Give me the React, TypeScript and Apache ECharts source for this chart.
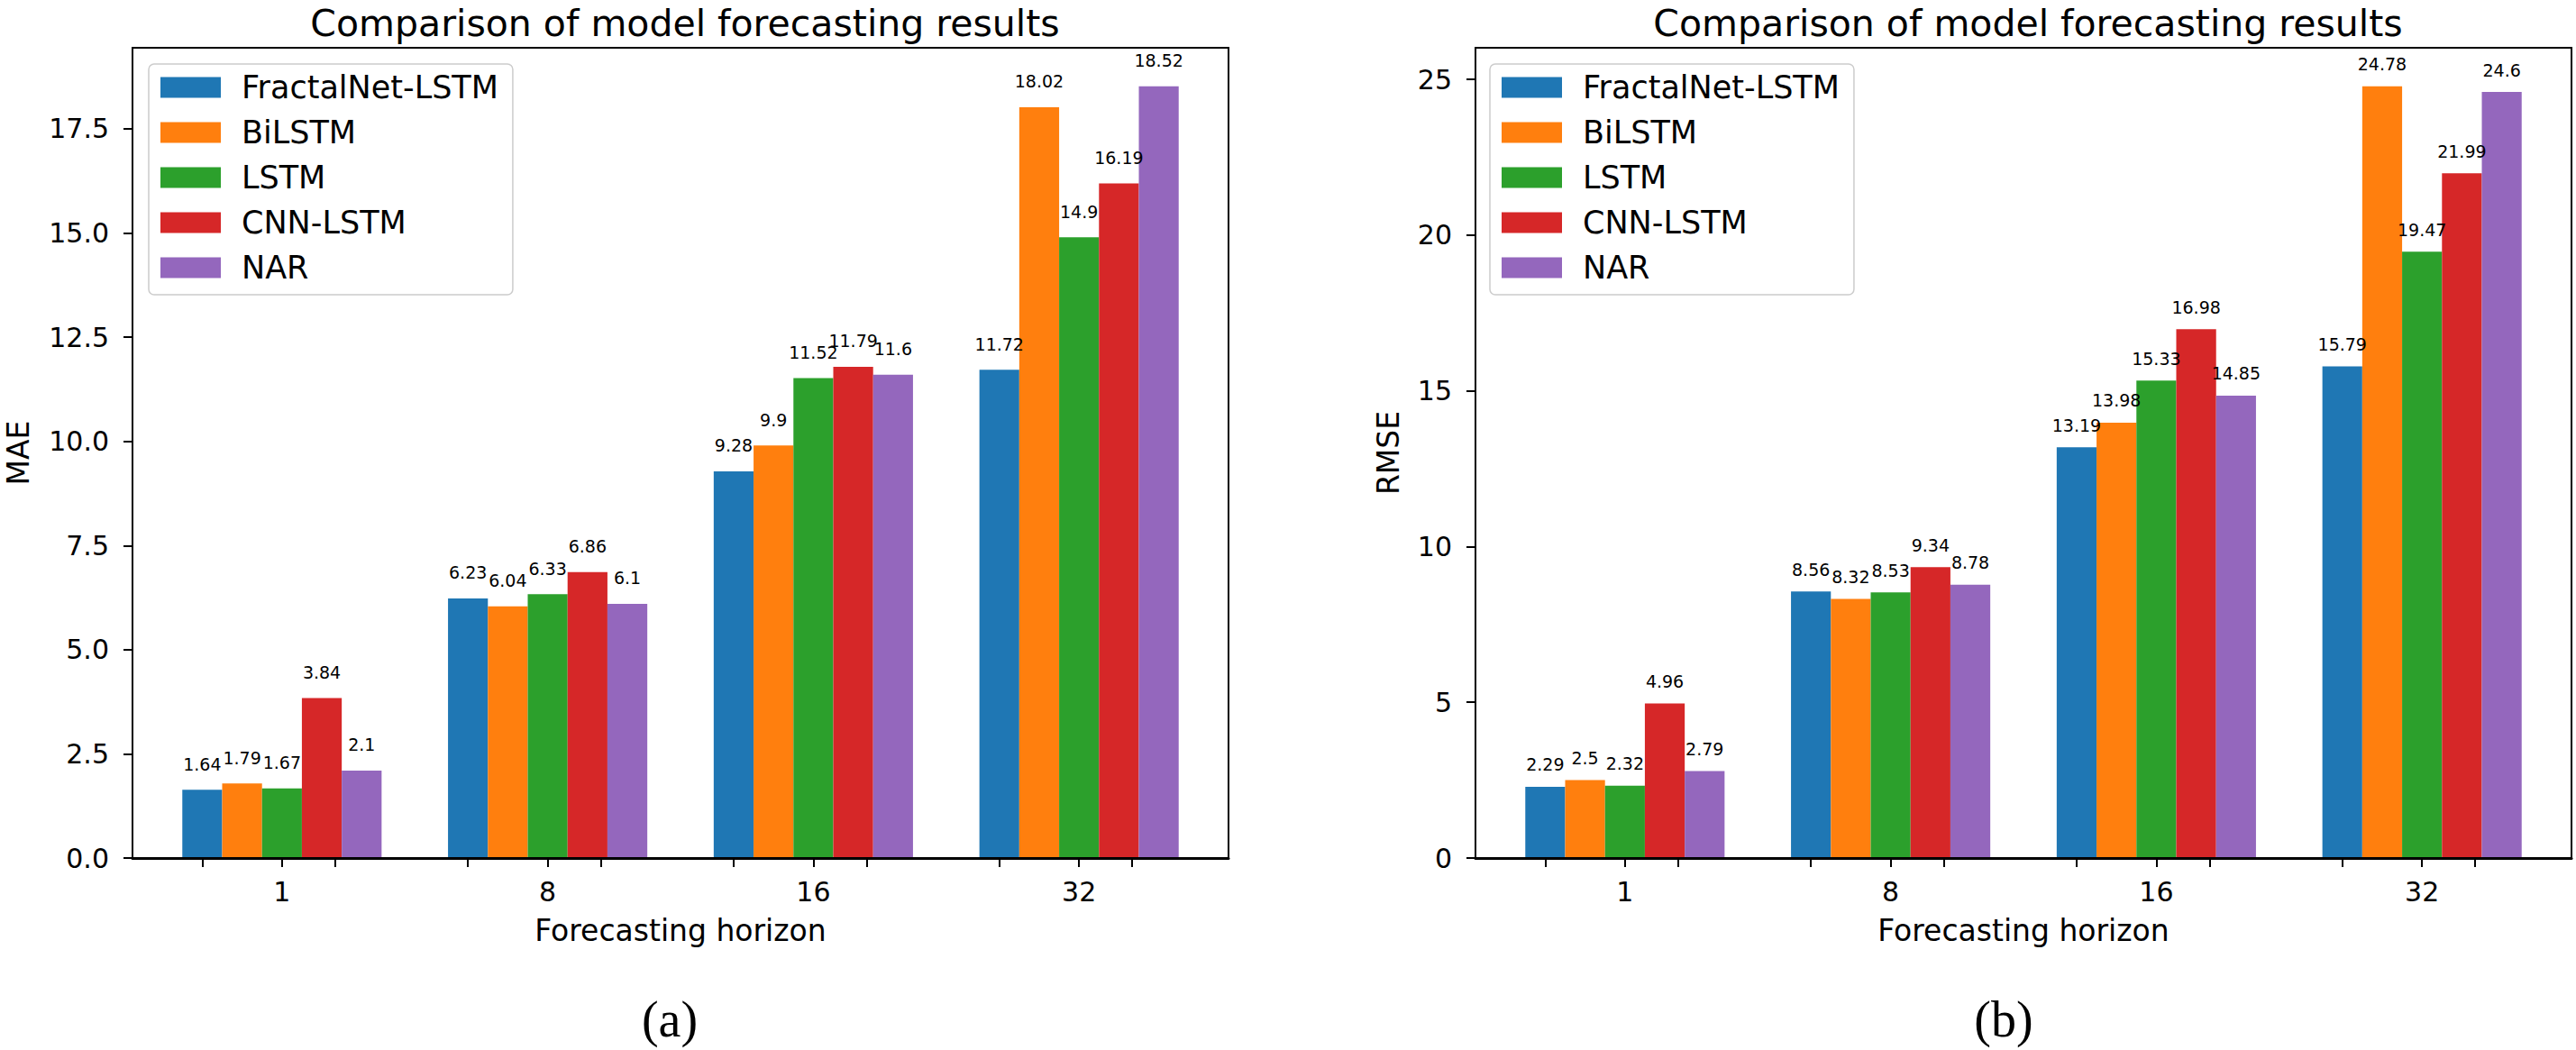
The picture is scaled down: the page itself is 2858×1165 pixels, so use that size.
import React, { useEffect, useRef } from "react";
import * as echarts from "echarts";

const horizons = ["1", "8", "16", "32"];
const models = ["FractalNet-LSTM", "BiLSTM", "LSTM", "CNN-LSTM", "NAR"];
const colors = ["#1f77b4", "#ff7f0e", "#2ca02c", "#d62728", "#9467bd"];

const maeFractalNet = [1.64, 6.23, 9.28, 11.72];
const maeBiLSTM = [1.79, 6.04, 9.9, 18.02];
const maeLSTM = [1.67, 6.33, 11.52, 14.9];
const maeCNNLSTM = [3.84, 6.86, 11.79, 16.19];
const maeNAR = [2.1, 6.1, 11.6, 18.52];

const rmseFractalNet = [2.29, 8.56, 13.19, 15.79];
const rmseBiLSTM = [2.5, 8.32, 13.98, 24.78];
const rmseLSTM = [2.32, 8.53, 15.33, 19.47];
const rmseCNNLSTM = [4.96, 9.34, 16.98, 21.99];
const rmseNAR = [2.79, 8.78, 14.85, 24.6];

const maeTicks = [0, 2.5, 5, 7.5, 10, 12.5, 15, 17.5];
const rmseTicks = [0, 5, 10, 15, 20, 25];
const maeMax = 19.446;
const rmseMax = 26.019;

const FONT = "DejaVu Sans";

export default function App() {
  const ref = useRef<HTMLDivElement>(null);

  useEffect(() => {
    if (!ref.current) return;
    const chart = echarts.init(ref.current, undefined, { renderer: "svg" });

    const xMin = -0.5625;
    const xMax = 3.5625;
    const span = xMax - xMin;
    const frameW = 1216;
    const frameTop = 53;
    const frameH = 899;
    const leftA = 147;
    const leftB = 1637;
    const barsOffset = (frameW * (0 - 0.5 - xMin)) / span;
    const barsW = (frameW * horizons.length) / span;

    const maeData = [maeFractalNet, maeBiLSTM, maeLSTM, maeCNNLSTM, maeNAR];
    const rmseData = [rmseFractalNet, rmseBiLSTM, rmseLSTM, rmseCNNLSTM, rmseNAR];

    const xTickVals = horizons.flatMap((_, i) => [i - 0.3, i, i + 0.2]);
    const xLabelVals = horizons.map((_, i) => i);

    const frameX = (gridIndex: number) => ({
      type: "value",
      gridIndex,
      min: xMin,
      max: xMax,
      z: 10,
      name: "Forecasting horizon",
      nameLocation: "middle",
      nameGap: 64,
      nameTextStyle: { fontFamily: FONT, fontSize: 33, color: "#000" },
      axisLine: { show: true, onZero: false, lineStyle: { color: "#000", width: 3 } },
      axisTick: {
        show: true,
        inside: false,
        length: 10,
        customValues: xTickVals,
        lineStyle: { color: "#000", width: 2 },
      },
      axisLabel: {
        show: true,
        customValues: xLabelVals,
        margin: 22,
        fontFamily: FONT,
        fontSize: 30,
        color: "#000",
        formatter: (v: number) => horizons[Math.round(v)] ?? "",
      },
      splitLine: { show: false },
    });

    const frameY = (gridIndex: number, max: number, ticks: number[], name: string, gap: number, dec: number) => ({
      type: "value",
      gridIndex,
      min: 0,
      max,
      z: 10,
      name,
      nameLocation: "middle",
      nameGap: gap,
      nameRotate: 90,
      nameTextStyle: { fontFamily: FONT, fontSize: 33, color: "#000" },
      axisLine: { show: true, onZero: false, lineStyle: { color: "#000", width: 2 } },
      axisTick: { show: true, inside: false, length: 10, customValues: ticks, lineStyle: { color: "#000", width: 2 } },
      axisLabel: {
        show: true,
        customValues: ticks,
        margin: 26,
        fontFamily: FONT,
        fontSize: 30,
        color: "#000",
        formatter: (v: number) => v.toFixed(dec),
      },
      splitLine: { show: false },
    });

    const barSeries = (data: number[][], xAxisIndex: number, yAxisIndex: number, dist: number) =>
      data.map((vals, k) => ({
        type: "bar",
        name: models[k],
        xAxisIndex,
        yAxisIndex,
        data: vals,
        barWidth: "15%",
        barGap: "0%",
        itemStyle: { color: colors[k] },
        label: {
          show: true,
          position: "top",
          distance: dist,
          fontFamily: FONT,
          fontSize: 19,
          color: "#000",
          formatter: "{c}",
        },
      }));

    const legend = (left: number) => ({
      orient: "vertical",
      left,
      top: 71,
      data: models,
      icon: "rect",
      itemWidth: 67,
      itemHeight: 23,
      itemGap: 14,
      padding: [8, 16, 12, 13],
      backgroundColor: "rgba(255,255,255,0.8)",
      borderColor: "#cccccc",
      borderWidth: 1.5,
      borderRadius: 6,
      textStyle: { fontFamily: FONT, fontSize: 35, color: "#000", lineHeight: 36, padding: [0, 0, 0, 18] },
      selectedMode: false,
    });

    const option: any = {
      animation: false,
      backgroundColor: "#ffffff",
      title: [
        {
          text: "Comparison of model forecasting results",
          left: leftA + frameW / 2,
          top: 0,
          textAlign: "center",
          textStyle: { fontFamily: FONT, fontSize: 41, fontWeight: "normal", color: "#000" },
        },
        {
          text: "Comparison of model forecasting results",
          left: leftB + frameW / 2,
          top: 0,
          textAlign: "center",
          textStyle: { fontFamily: FONT, fontSize: 41, fontWeight: "normal", color: "#000" },
        },
        {
          text: "(a)",
          left: 738,
          top: 1098,
          textAlign: "center",
          textStyle: { fontFamily: "Liberation Serif", fontSize: 56, fontWeight: "normal", color: "#000" },
        },
        {
          text: "(b)",
          left: 2218,
          top: 1098,
          textAlign: "center",
          textStyle: { fontFamily: "Liberation Serif", fontSize: 56, fontWeight: "normal", color: "#000" },
        },
      ],
      legend: [legend(165), legend(1653)],
      grid: [
        { left: leftA, top: frameTop, width: frameW, height: frameH, show: true, borderColor: "#000", borderWidth: 2, backgroundColor: "transparent", outerBoundsMode: "none" },
        { left: leftA + barsOffset, top: frameTop, width: barsW, height: frameH, outerBoundsMode: "none" },
        { left: leftB, top: frameTop, width: frameW, height: frameH, show: true, borderColor: "#000", borderWidth: 2, backgroundColor: "transparent", outerBoundsMode: "none" },
        { left: leftB + barsOffset, top: frameTop, width: barsW, height: frameH, outerBoundsMode: "none" },
      ],
      xAxis: [
        frameX(0),
        { type: "category", gridIndex: 1, data: horizons, show: false },
        frameX(2),
        { type: "category", gridIndex: 3, data: horizons, show: false },
      ],
      yAxis: [
        frameY(0, maeMax, maeTicks, "MAE", 110, 1),
        { type: "value", gridIndex: 1, min: 0, max: maeMax, show: false },
        frameY(2, rmseMax, rmseTicks, "RMSE", 80, 0),
        { type: "value", gridIndex: 3, min: 0, max: rmseMax, show: false },
      ],
      series: [...barSeries(maeData, 1, 1, 19), ...barSeries(rmseData, 3, 3, 15)],
    };

    chart.setOption(option);
    return () => chart.dispose();
  }, []);

  return (
    <div
      ref={ref}
      style={{ position: "absolute", left: 0, top: 0, width: 2858, height: 1165, background: "#fff" }}
    />
  );
}
